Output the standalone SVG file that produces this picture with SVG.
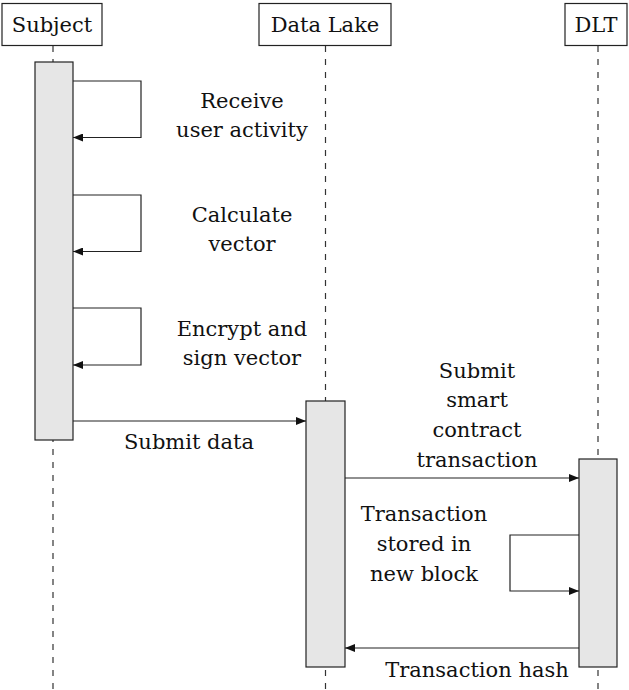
<svg xmlns="http://www.w3.org/2000/svg" width="629" height="690" viewBox="0 0 629 690">
<defs>
<marker id="ah" viewBox="0 0 10 8" refX="10" refY="4" markerWidth="10" markerHeight="8" markerUnits="userSpaceOnUse" orient="auto">
<path d="M0,0 L10,4 L0,8 Z" fill="#111"/>
</marker>
</defs>
<style>
text{font-family:"DejaVu Serif","Liberation Serif",serif;font-size:21px;fill:#111;text-anchor:middle}
.box{fill:#fff;stroke:#222;stroke-width:1.2}
.bar{fill:#e6e6e6;stroke:#222;stroke-width:1.2}
.life{stroke:#333;stroke-width:1.2;stroke-dasharray:6 7;fill:none}
.msg{stroke:#222;stroke-width:1.2;fill:none;marker-end:url(#ah)}
</style>
<rect width="629" height="690" fill="#fff"/>
<g id="lifelines">
<line class="life" x1="53" y1="46" x2="53" y2="690"/>
<line class="life" x1="325.5" y1="46" x2="325.5" y2="690"/>
<line class="life" x1="598" y1="46" x2="598" y2="690"/>
</g>
<g id="subject">
<rect class="box" x="2" y="3.5" width="100" height="42"/>
<text x="52" y="32">Subject</text>
<rect class="bar" x="35" y="62" width="38" height="378"/>
</g>
<g id="datalake">
<rect class="box" x="259" y="3.5" width="132" height="42"/>
<text x="325" y="32">Data Lake</text>
<rect class="bar" x="306" y="401" width="39" height="266"/>
</g>
<g id="dlt">
<rect class="box" x="565" y="3.5" width="62" height="42"/>
<text x="596" y="32">DLT</text>
<rect class="bar" x="579" y="459" width="38" height="208"/>
</g>
<g id="connectors">
<path class="msg" d="M73,81 H141 V137.5 H73"/>
<path class="msg" d="M73,195 H141 V251.5 H73"/>
<path class="msg" d="M73,308 H141 V365 H73"/>
<path class="msg" d="M73,421 H306"/>
<path class="msg" d="M345,478 H579"/>
<path class="msg" d="M579,535 H510 V591 H579"/>
<path class="msg" d="M579,648 H345"/>
</g>
<g id="labels">
<text x="242" y="108">Receive</text>
<text x="242" y="137">user activity</text>
<text x="242" y="222">Calculate</text>
<text x="242" y="251">vector</text>
<text x="242" y="336">Encrypt and</text>
<text x="242" y="365">sign vector</text>
<text x="189" y="449">Submit data</text>
<text x="477" y="378">Submit</text>
<text x="477" y="407">smart</text>
<text x="477" y="437">contract</text>
<text x="477" y="467">transaction</text>
<text x="424" y="521">Transaction</text>
<text x="424" y="551">stored in</text>
<text x="424" y="581">new block</text>
<text x="477" y="677">Transaction hash</text>
</g>
</svg>
